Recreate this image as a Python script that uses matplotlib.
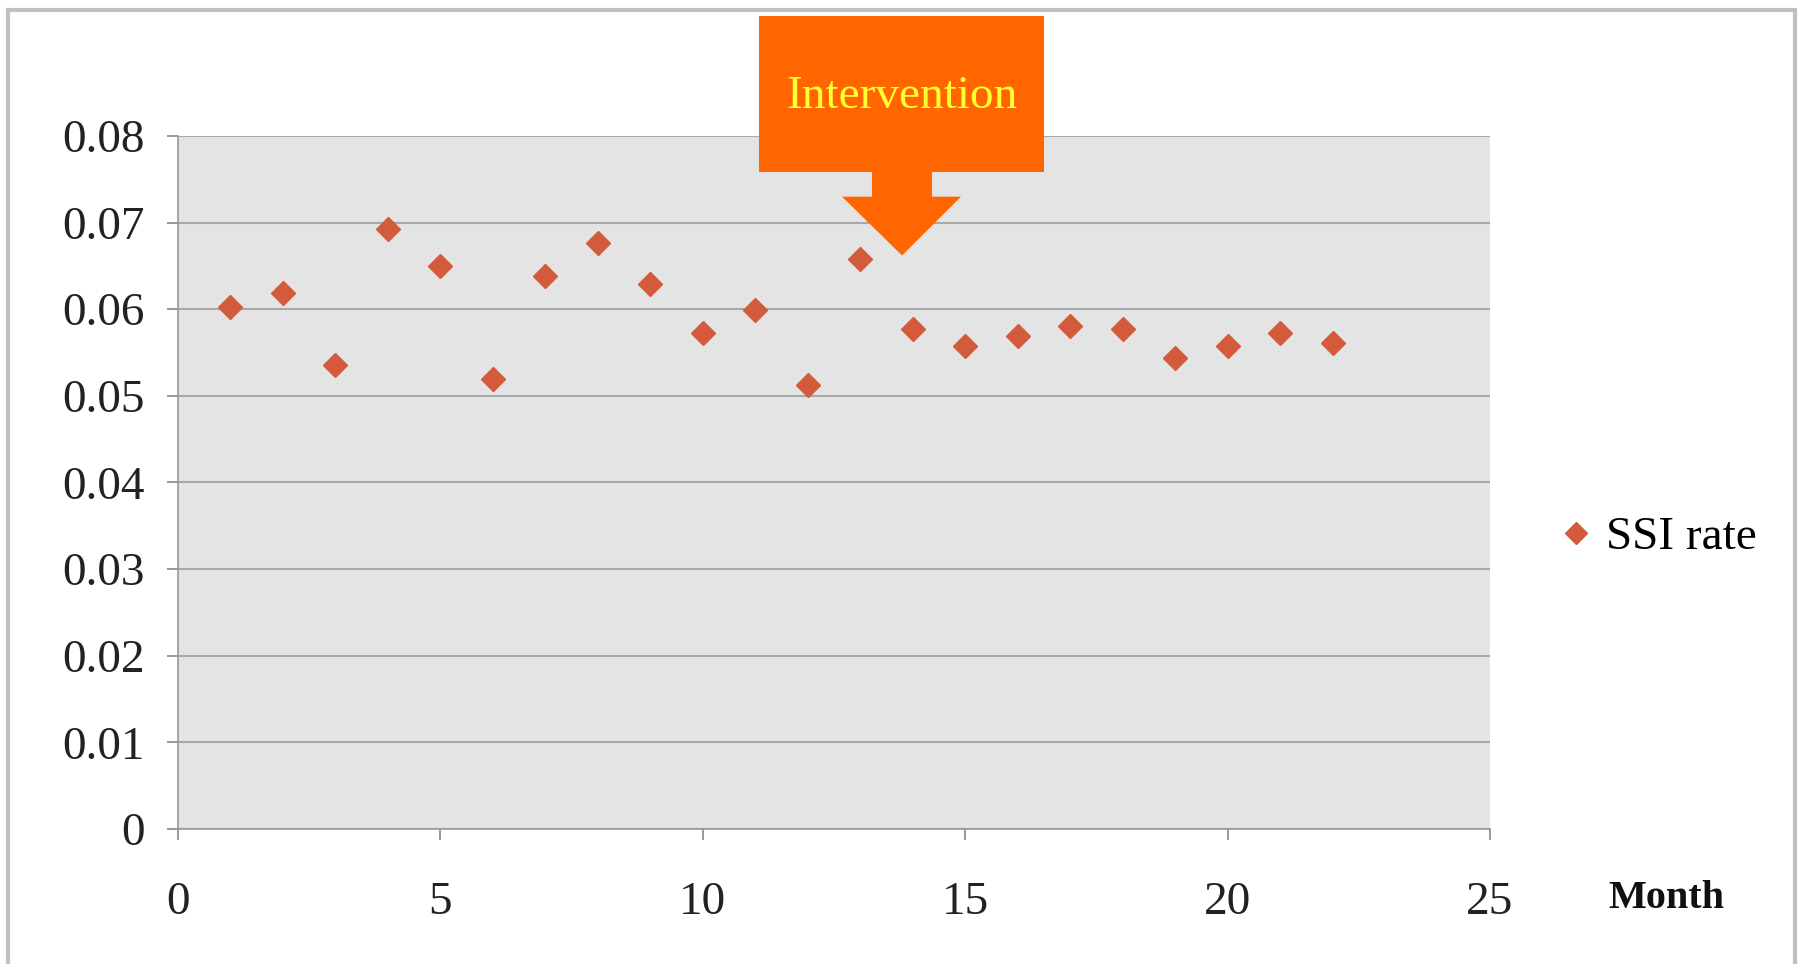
import matplotlib.pyplot as plt
from matplotlib.patches import Rectangle, Polygon

# data
months = [1, 2, 3, 4, 5, 6, 7, 8, 9, 10, 11, 12, 13, 14, 15, 16, 17, 18, 19, 20, 21, 22]
ssi_rate = [0.0602, 0.0619, 0.0536, 0.0692, 0.0650, 0.0519, 0.0638, 0.0676, 0.0629, 0.0573,
            0.0599, 0.0513, 0.0658, 0.0577, 0.0558, 0.0569, 0.0581, 0.0577, 0.0544, 0.0557,
            0.0572, 0.0561]
x_ticks = [0, 5, 10, 15, 20, 25]
y_ticks = [0, 0.01, 0.02, 0.03, 0.04, 0.05, 0.06, 0.07, 0.08]
y_labels = ['0', '0.01', '0.02', '0.03', '0.04', '0.05', '0.06', '0.07', '0.08']

plt.rcParams['font.family'] = ['Liberation Serif', 'DejaVu Serif']

fig = plt.figure(figsize=(18.03, 9.64), dpi=100)
ax = fig.add_axes([0.0987, 0.14, 0.7277, 0.719])
ax.set_facecolor('#e4e4e4')

ax.plot(months, ssi_rate, linestyle='none', marker='D', markersize=12,
        color='#d35a3a', label='SSI rate')

ax.set_xlim(0, 25)
ax.set_ylim(0, 0.08)
ax.set_xticks(x_ticks)
ax.set_yticks(y_ticks)
ax.set_yticklabels(y_labels)
ax.grid(axis='y', color='#a8a8a8', linewidth=1.5)
ax.set_axisbelow(True)
ax.tick_params(axis='both', labelsize=34, colors='#888888', labelcolor='#222222',
               length=8, width=1.2, direction='out')
ax.tick_params(axis='y', pad=16)
ax.tick_params(axis='x', pad=30)
for s in ['top', 'right']:
    ax.spines[s].set_visible(False)
for s in ['left', 'bottom']:
    ax.spines[s].set_color('#999999')
    ax.spines[s].set_linewidth(1.2)

fig.text(0.924, 0.068, 'Month', fontsize=29, fontweight='bold', ha='center', va='center',
         color='#111111')

leg = ax.legend(loc='center left', bbox_to_anchor=(1.022, 0.42), frameon=False,
                fontsize=34, handlelength=0.6, handletextpad=0.35, markerscale=0.9)

# intervention callout
fig.patches.append(Rectangle((0.421, 0.822), 0.158, 0.161, transform=fig.transFigure,
                             facecolor='#ff6600', edgecolor='none'))
arrow = [(0.4836, 0.822), (0.5169, 0.822), (0.5169, 0.796), (0.533, 0.796),
         (0.5003, 0.735), (0.467, 0.796), (0.4836, 0.796)]
fig.patches.append(Polygon(arrow, closed=True, transform=fig.transFigure,
                           facecolor='#ff6600', edgecolor='none'))
fig.text(0.5, 0.9, 'Intervention', fontsize=34, color='#ffff33', ha='center', va='center')

# outer frame
fig.patches.append(Rectangle((0.0045, -0.05), 0.991, 1.04, transform=fig.transFigure,
                             facecolor='none', edgecolor='#c0c0c0', linewidth=3))

plt.savefig('out.png', dpi=100)
